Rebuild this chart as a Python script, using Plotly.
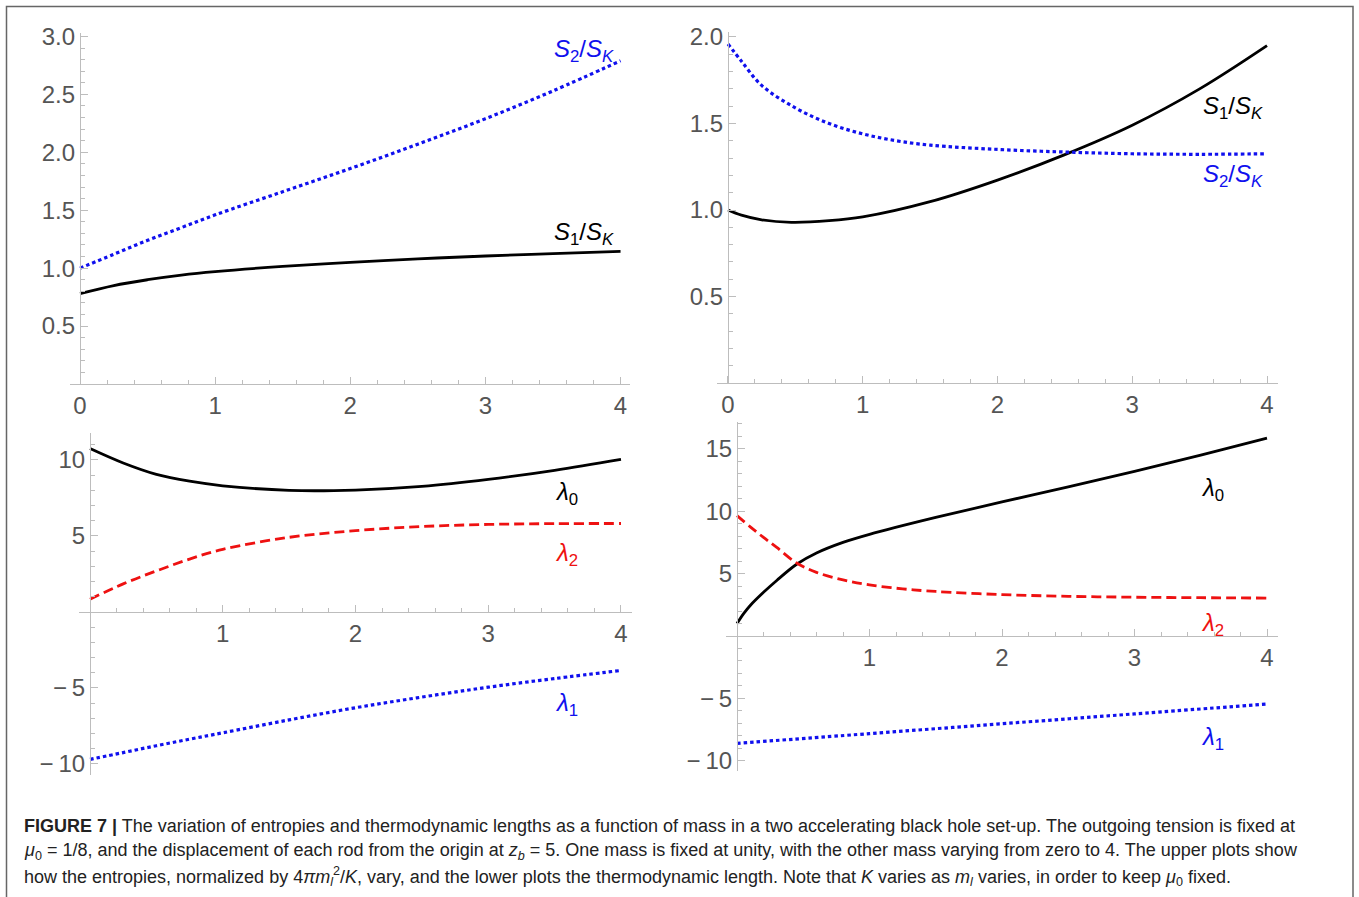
import plotly.graph_objects as go

# ---------------- data ----------------
# Top-left: entropies vs m1
m1_top = [0, 0.25, 0.5, 0.75, 1, 1.5, 2, 2.5, 3, 3.5, 4]
s1_vs_m1 = [0.78, 0.85, 0.90, 0.94, 0.97, 1.015, 1.05, 1.08, 1.105, 1.125, 1.145]
s2_vs_m1 = [1.0, 1.12, 1.24, 1.35, 1.46, 1.66, 1.86, 2.07, 2.29, 2.53, 2.79]

# Top-right: entropies vs m2
m2_top_s1 = [0, 0.1, 0.25, 0.47, 0.75, 1, 1.5, 2, 2.5, 3, 3.5, 4]
s1_vs_m2 = [1.0, 0.97, 0.943, 0.929, 0.938, 0.96, 1.048, 1.173, 1.32, 1.49, 1.70, 1.95]
m2_top_s2 = [0, 0.1, 0.25, 0.5, 0.75, 1, 1.25, 1.5, 2, 2.5, 3, 3.5, 4]
s2_vs_m2 = [1.96, 1.86, 1.72, 1.59, 1.50, 1.44, 1.40, 1.375, 1.35, 1.335, 1.325, 1.322, 1.325]

# Bottom-left: thermodynamic lengths vs m1
m1_bot = [0, 0.25, 0.5, 0.75, 1, 1.5, 2, 2.5, 3, 3.5, 4]
lam0_vs_m1 = [10.75, 9.8, 9.05, 8.6, 8.3, 8.0, 8.02, 8.26, 8.72, 9.32, 10.04]
lam2_vs_m1 = [0.84, 1.85, 2.7, 3.48, 4.12, 4.91, 5.35, 5.62, 5.76, 5.81, 5.82]
lam1_vs_m1 = [-9.7, -9.25, -8.8, -8.37, -7.95, -7.1, -6.3, -5.6, -4.95, -4.38, -3.85]

# Bottom-right: thermodynamic lengths vs m2
m2_bot_l0 = [0, 0.05, 0.1, 0.2, 0.3, 0.45, 0.6, 0.8, 1, 1.5, 2, 2.5, 3, 3.5, 4]
lam0_vs_m2 = [1.0, 1.8, 2.45, 3.5, 4.45, 5.75, 6.65, 7.5, 8.15, 9.5, 10.75, 11.95, 13.2, 14.5, 15.85]
m2_bot_l2 = [0, 0.1, 0.2, 0.3, 0.45, 0.6, 0.8, 1, 1.25, 1.5, 2, 2.5, 3, 3.5, 4]
lam2_vs_m2 = [9.65, 8.75, 7.9, 7.1, 5.85, 5.1, 4.5, 4.1, 3.78, 3.57, 3.32, 3.18, 3.11, 3.07, 3.04]
m2_bot_l1 = [0, 1, 2, 3, 4]
lam1_vs_m2 = [-8.6, -7.82, -7.03, -6.24, -5.45]

# tick labels
x_ticks_top = [0, 1, 2, 3, 4]
x_ticks_bot = [1, 2, 3, 4]
y_ticks_tl = [0.5, 1.0, 1.5, 2.0, 2.5, 3.0]
y_ticks_tr = [0.5, 1.0, 1.5, 2.0]
y_ticks_bl = [-10, -5, 5, 10]
y_ticks_br = [-10, -5, 5, 10, 15]

# ---------------- styling ----------------
W, H = 1359, 897
BLACK = "#000000"
BLUE = "#1010ee"
RED = "#ee1111"
AXC = "#bdbdbd"
TXT = "#555555"
FONT = "Liberation Sans"

fig = go.Figure()


def fmt_num(v):
    if isinstance(v, float):
        s = f"{v:.1f}"
    else:
        s = str(v)
    return s.replace("-", "\u2212\u2009")


def frange(a, b, step):
    out = []
    k = 0
    while True:
        v = round(a + k * step, 6)
        if v > b + 1e-9:
            break
        out.append(v)
        k += 1
    return out


def setup(idx, xr, yr, px, py, xt, yt, xminor_step, yminor_step, ymajor_step):
    x0, x1 = px
    top, bottom = py
    xdom = [x0 / W, x1 / W]
    ydom = [1 - bottom / H, 1 - top / H]
    ypos = (x0 + (0 - xr[0]) / (xr[1] - xr[0]) * (x1 - x0)) / W
    xpos = 1 - (bottom - (0 - yr[0]) / (yr[1] - yr[0]) * (bottom - top)) / H
    xmin = [v for v in frange(0, 4, xminor_step) if abs(v - round(v)) > 1e-6]
    ymin = [v for v in frange(-12, 18, yminor_step)
            if yr[0] <= v <= yr[1] and abs(v / ymajor_step - round(v / ymajor_step)) > 1e-6]
    sfx = "" if idx == 1 else str(idx)
    common = dict(
        showline=True, linecolor=AXC, linewidth=1.2, zeroline=False, showgrid=False,
        ticks="inside", ticklen=7, tickwidth=1, tickcolor=AXC, tickmode="array",
        tickfont=dict(family=FONT, size=24, color=TXT), automargin=False, fixedrange=True,
        anchor="free",
    )
    fig.layout["xaxis" + sfx] = dict(
        domain=xdom, range=xr, position=xpos,
        tickvals=xt, ticktext=[fmt_num(v) for v in xt],
        minor=dict(tickmode="array", tickvals=xmin, ticks="inside", ticklen=4,
                   tickcolor=AXC, tickwidth=1),
        **common,
    )
    fig.layout["yaxis" + sfx] = dict(
        domain=ydom, range=yr, position=ypos,
        tickvals=yt, ticktext=[fmt_num(v) for v in yt],
        minor=dict(tickmode="array", tickvals=ymin, ticks="inside", ticklen=4,
                   tickcolor=AXC, tickwidth=1),
        **common,
    )


setup(1, [-0.074, 4.07], [0, 3.03], [70, 630], [33, 384], x_ticks_top, y_ticks_tl, 0.2, 0.1, 0.5)
setup(2, [-0.08, 4.08], [0, 2.03], [717.2, 1277.8], [31.8, 383], x_ticks_top, y_ticks_tr, 0.2, 0.1, 0.5)
setup(3, [-0.08, 4.08], [-10.7, 11.8], [79.4, 631.6], [432.6, 774.6], x_ticks_bot, y_ticks_bl, 0.2, 1, 5)
setup(4, [-0.08, 4.08], [-10.8, 17.15], [726.4, 1277.6], [422, 770.8], x_ticks_bot, y_ticks_br, 0.2, 1, 5)


def line(x, y, ax, color, dash, width):
    sfx = "" if ax == 1 else str(ax)
    fig.add_trace(go.Scatter(
        x=x, y=y, mode="lines", xaxis="x" + sfx, yaxis="y" + sfx,
        line=dict(color=color, width=width, dash=dash, shape="spline", smoothing=1.0),
        hoverinfo="skip", showlegend=False,
    ))


DOT = "3.5px,3px"
DASH = "10px,5px"

line(m1_top, s1_vs_m1, 1, BLACK, "solid", 2.8)
line(m1_top, s2_vs_m1, 1, BLUE, DOT, 3.2)

line(m2_top_s1, s1_vs_m2, 2, BLACK, "solid", 2.8)
line(m2_top_s2, s2_vs_m2, 2, BLUE, DOT, 3.2)

line(m1_bot, lam0_vs_m1, 3, BLACK, "solid", 2.8)
line(m1_bot, lam2_vs_m1, 3, RED, DASH, 2.8)
line(m1_bot, lam1_vs_m1, 3, BLUE, DOT, 3.2)

line(m2_bot_l0, lam0_vs_m2, 4, BLACK, "solid", 2.8)
line(m2_bot_l2, lam2_vs_m2, 4, RED, DASH, 2.8)
line(m2_bot_l1, lam1_vs_m2, 4, BLUE, DOT, 3.2)

S1 = "<i>S</i><sub>1</sub>/<i>S<sub>K</sub></i>"
S2 = "<i>S</i><sub>2</sub>/<i>S<sub>K</sub></i>"
L0 = "<i>λ</i><sub>0</sub>"
L1 = "<i>λ</i><sub>1</sub>"
L2 = "<i>λ</i><sub>2</sub>"

labels = [
    (1, 3.73, 2.88, S2, BLUE), (1, 3.73, 1.30, S1, BLACK),
    (2, 3.75, 1.59, S1, BLACK), (2, 3.75, 1.20, S2, BLUE),
    (3, 3.59, 7.8, L0, BLACK), (3, 3.59, 3.8, L2, RED), (3, 3.59, -6.1, L1, BLUE),
    (4, 3.59, 11.75, L0, BLACK), (4, 3.59, 0.95, L2, RED), (4, 3.59, -8.2, L1, BLUE),
]
for ax, x, y, t, c in labels:
    sfx = "" if ax == 1 else str(ax)
    fig.add_annotation(x=x, y=y, xref="x" + sfx, yref="y" + sfx, text=t, showarrow=False,
                       font=dict(family=FONT, size=24, color=c), xanchor="center", yanchor="middle")

for ax, t in [(1, "<i>m</i><sub>1</sub>"), (2, "<i>m</i><sub>2</sub>"),
              (3, "<i>m</i><sub>1</sub>"), (4, "<i>m</i><sub>2</sub>")]:
    sfx = "" if ax == 1 else str(ax)
    fig.add_annotation(x=4.13, y=0, xref="x" + sfx, yref="y" + sfx, text=t, showarrow=False,
                       font=dict(family=FONT, size=24, color=TXT), xanchor="left", yanchor="middle")

cap = [
    "<b>FIGURE 7 |</b> The variation of entropies and thermodynamic lengths as a function of mass "
    "in a two accelerating black hole set-up. The outgoing tension is fixed at",
    "<i>μ</i><sub>0</sub> = 1/8, and the displacement of each rod from the origin at "
    "<i>z<sub>b</sub></i> = 5. One mass is fixed at unity, with the other mass varying from "
    "zero to 4. The upper plots show",
    "how the entropies, normalized by 4<i>πm</i><sub><i>l</i></sub><sup>2</sup>/<i>K</i>, vary, "
    "and the lower plots the thermodynamic length. Note that <i>K</i> varies as "
    "<i>m<sub>l</sub></i> varies, in order to keep <i>μ</i><sub>0</sub> fixed.",
]
for i, t in enumerate(cap):
    fig.add_annotation(x=22 / W, y=1 - (826 + 25 * i) / H, xref="paper", yref="paper", text=t,
                       showarrow=False, xanchor="left", yanchor="middle", align="left",
                       font=dict(family=FONT, size=18, color="#222222"))

fig.add_shape(type="rect", xref="paper", yref="paper", x0=6.5 / W, x1=1353 / W,
              y0=-0.05, y1=1 - 6.5 / H, line=dict(color="#666666", width=1.5),
              fillcolor="rgba(0,0,0,0)", layer="above")

fig.update_layout(width=W, height=H, margin=dict(l=0, r=0, t=0, b=0, pad=0, autoexpand=False),
                  paper_bgcolor="white", plot_bgcolor="white", showlegend=False)

fig.write_html(
    "out.html",
    config={"displayModeBar": False},
    post_script="document.body.style.margin='0';document.body.style.overflow='hidden';",
)
